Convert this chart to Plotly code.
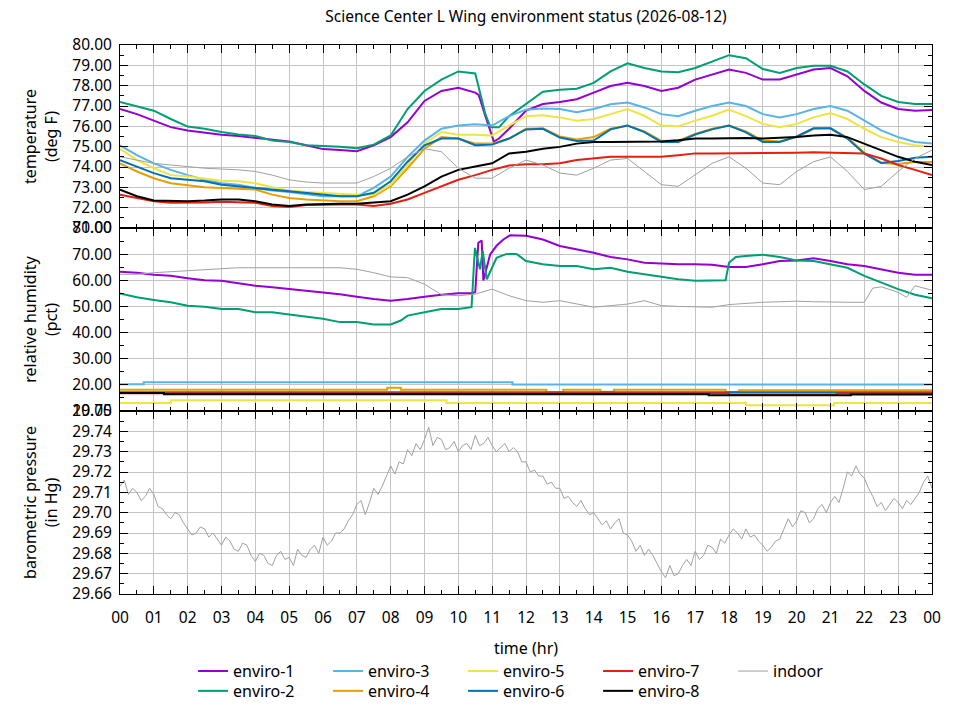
import pandas as pd
import plotly.graph_objects as go
from plotly.subplots import make_subplots

# ---- data (hours since midnight) ----
DAY = pd.Timestamp("2026-08-12")
HALF = [i * 0.5 for i in range(49)]          # 00:00 .. 24:00 every 30 min
EIGHTH = [i * 0.125 for i in range(193)]     # pressure samples

# temperature (deg F)
E1_TEMP_HOURS = HALF[:22] + [10.6, 10.8, 11.05, 11.2, 11.5] + HALF[24:]
E1_TEMP = [76.85, 76.6, 76.28, 75.96, 75.8, 75.68, 75.59, 75.52, 75.43, 75.36, 75.26, 75.07,
           74.88, 74.83, 74.78, 75.07, 75.47, 76.2, 77.25, 77.74, 77.9, 77.66,
           77.55, 76.5, 75.25, 75.4, 75.88,
           76.77, 77.1, 77.2, 77.33, 77.66, 77.98, 78.14, 77.98, 77.74, 77.9, 78.3, 78.55,
           78.79, 78.63, 78.3, 78.3, 78.55, 78.79, 78.87, 78.46, 77.74, 77.17, 76.85, 76.77, 76.8]
E2_TEMP_HOURS = HALF[:22] + [10.65, 10.8, 10.95, 11.2, 11.5] + HALF[24:]
E2_TEMP = [77.2, 77.0, 76.77, 76.36, 75.99, 75.88, 75.72, 75.6, 75.52, 75.3, 75.23, 75.07,
           75.04, 74.99, 74.92, 75.1, 75.55, 76.85, 77.74, 78.3, 78.7, 78.6,
           77.6, 76.6, 75.95, 75.95, 76.5,
           77.1, 77.7, 77.8, 77.85, 78.14, 78.7, 79.1, 78.87, 78.7, 78.66, 78.87, 79.19,
           79.5, 79.35, 78.82, 78.63, 78.87, 78.98, 78.98, 78.7, 78.06, 77.5, 77.2, 77.1, 77.1]
E3_TEMP = [75.07, 74.58, 74.18, 73.86, 73.6, 73.37, 73.2, 73.13, 72.97, 72.84, 72.77, 72.68,
           72.56, 72.56, 72.56, 72.97, 73.53, 74.5, 75.3, 75.88, 76.04, 76.1, 76.04, 76.5,
           76.82, 76.88, 76.85, 76.69, 76.85, 77.09, 77.17, 76.93, 76.6, 76.5, 76.77, 77.0,
           77.17, 77.0, 76.6, 76.44, 76.6, 76.85, 77.0, 76.77, 76.28, 75.8, 75.47, 75.23, 75.15]
E4_TEMP = [74.18, 73.78, 73.45, 73.2, 73.1, 73.0, 72.97, 72.94, 72.89, 72.64, 72.48, 72.4,
           72.35, 72.32, 72.32, 72.56, 73.05, 73.94, 74.9, 75.47, 75.4, 75.15, 75.15, 75.4,
           75.88, 75.9, 75.5, 75.35, 75.47, 75.88, 76.04, 75.75, 75.28, 75.3, 75.63, 75.88,
           76.04, 75.75, 75.3, 75.25, 75.47, 75.88, 75.9, 75.45, 74.7, 74.2, 74.15, 74.25, 74.25]
E5_TEMP = [74.9, 74.34, 73.94, 73.6, 73.53, 73.42, 73.32, 73.3, 73.2, 73.0, 72.84, 72.77,
           72.73, 72.68, 72.64, 72.64, 73.13, 74.1, 75.15, 75.72, 75.59, 75.59, 75.55, 76.04,
           76.5, 76.55, 76.44, 76.28, 76.36, 76.6, 76.85, 76.52, 76.04, 76.0, 76.28, 76.52,
           76.82, 76.5, 76.12, 75.96, 76.12, 76.44, 76.65, 76.36, 75.88, 75.47, 75.23, 75.07, 74.99]
E6_TEMP = [74.34, 74.02, 73.7, 73.45, 73.37, 73.3, 73.13, 73.05, 72.97, 72.89, 72.8, 72.73,
           72.64, 72.56, 72.56, 72.73, 73.3, 74.26, 75.07, 75.4, 75.4, 75.07, 75.1, 75.4,
           75.85, 75.88, 75.45, 75.28, 75.3, 75.85, 76.04, 75.72, 75.23, 75.23, 75.6, 75.85,
           76.04, 75.7, 75.23, 75.23, 75.5, 75.9, 75.9, 75.4, 74.65, 74.2, 74.3, 74.45, 74.5]
E7_TEMP = [72.64, 72.48, 72.32, 72.24, 72.24, 72.26, 72.29, 72.26, 72.24, 72.08, 72.03, 72.13,
           72.16, 72.16, 72.16, 72.08, 72.19, 72.4, 72.73, 73.05, 73.37, 73.6, 73.86, 74.07,
           74.13, 74.13, 74.18, 74.34, 74.42, 74.5, 74.5, 74.5, 74.5, 74.58, 74.67, 74.67,
           74.67, 74.67, 74.67, 74.67, 74.7, 74.72, 74.7, 74.67, 74.67, 74.42, 74.1, 73.86, 73.6]
E8_TEMP = [72.89, 72.56, 72.35, 72.32, 72.32, 72.35, 72.4, 72.4, 72.32, 72.16, 72.08, 72.16,
           72.19, 72.19, 72.19, 72.24, 72.32, 72.64, 73.05, 73.53, 73.86, 74.02, 74.18, 74.67,
           74.75, 74.9, 74.99, 75.15, 75.23, 75.23, 75.23, 75.25, 75.25, 75.31, 75.4, 75.4,
           75.43, 75.43, 75.4, 75.43, 75.47, 75.55, 75.59, 75.47, 75.15, 74.83, 74.5, 74.26, 74.1]
IN_TEMP = [74.5, 74.34, 74.18, 74.1, 74.02, 73.94, 73.9, 73.86, 73.78, 73.6, 73.37, 73.26,
           73.21, 73.21, 73.21, 73.53, 73.94, 74.5, 74.9, 74.75, 73.94, 73.45, 73.45, 73.94,
           74.34, 74.1, 73.7, 73.6, 73.94, 74.34, 74.42, 73.78, 73.13, 73.05, 73.6, 74.18,
           74.5, 73.94, 73.21, 73.13, 73.78, 74.26, 74.5, 73.78, 72.89, 73.05, 73.78, 74.42, 74.83]

# relative humidity (pct)
E1_HUM_HOURS = HALF[:21] + [10.4, 10.5, 10.59, 10.69, 10.74, 10.94, 11.13, 11.33, 11.53] + HALF[24:]
E1_HUM = [63.3, 62.9, 62.1, 61.7, 60.8, 60.0, 59.8, 58.9, 57.9, 57.3, 56.6, 56.0, 55.4, 54.7,
          53.7, 52.8, 52.2, 52.8, 53.7, 54.5, 55.0,
          55.0, 55.5, 74.3, 75.2, 59.9, 69.9, 73.2, 75.6, 77.2,
          77.0, 75.6, 73.1, 71.8, 70.5, 68.9, 68.0, 66.7, 66.4, 66.1, 66.1, 65.9, 65.1, 65.1,
          66.1, 67.4, 67.6, 68.4, 67.4, 66.1, 65.5, 64.2, 62.9, 62.1, 62.1]
E2_HUM_HOURS = (HALF[:17] + [8.3, 8.5, 9, 9.5, 10]
                + [10.39, 10.49, 10.64, 10.72, 10.84, 11.13, 11.43, 11.72]
                + HALF[24:36] + [17.9, 18.0, 18.2] + HALF[37:])
E2_HUM = [55.0, 53.5, 52.5, 51.6, 50.3, 49.9, 49.0, 49.0, 47.8, 47.8, 46.9, 46.1, 45.3, 44.0,
          44.0, 43.1, 43.1,
          44.6, 46.5, 47.8, 49.0, 49.0,
          49.7, 72.4, 64.2, 71.3, 60.4, 68.6, 70.1, 70.1,
          67.4, 66.1, 65.5, 65.5, 64.2, 64.8, 63.3, 62.3, 61.3, 60.4, 59.8, 59.8,
          60.0, 66.7, 68.9,
          69.3, 69.8, 68.9, 67.6, 67.4, 66.1, 64.8, 61.7, 59.2, 56.6, 54.5, 53.1]
IN_HUM_HOURS = HALF[:45] + [22.25, 22.5, 23, 23.25, 23.5, 24]
IN_HUM = [62.3, 62.3, 62.9, 63.3, 63.8, 64.2, 64.6, 64.8, 64.8, 64.8, 64.8, 64.8, 64.8, 64.8,
          64.2, 62.9, 61.3, 61.0, 58.5, 54.5, 54.1, 54.7, 56.6, 54.1, 52.2, 51.6, 52.2, 50.9,
          49.7, 50.3, 50.9, 52.2, 50.3, 50.0, 49.9, 49.7, 50.7, 51.2, 51.6, 51.8, 52.0, 51.8,
          51.6, 51.6, 51.6,
          57.0, 57.5, 55.4, 53.5, 57.9, 56.2]
# flat sensors, stored as step change points
E3_HUM_HOURS = [0, 0.7, 11.6, 24]
E3_HUM = [20.2, 21.0, 20.1, 20.1]
E4_HUM_HOURS = [0, 7.9, 8.3, 12.6, 13.1, 14.2, 14.6, 17.9, 18.3, 24]
E4_HUM = [18.1, 18.9, 18.1, 17.2, 18.1, 17.4, 18.1, 17.3, 17.9, 17.9]
E5_HUM_HOURS = [0, 1.5, 9.65, 18.5, 21.1, 24]
E5_HUM = [13.1, 14.1, 13.1, 12.2, 13.1, 13.1]
E6_HUM_HOURS = [0, 24]
E6_HUM = [17.2, 17.2]
E7_HUM_HOURS = [0, 18.0, 21.2, 24]
E7_HUM = [16.8, 16.3, 16.8, 16.8]
E8_HUM_HOURS = [0, 1.3, 17.4, 21.6, 24]
E8_HUM = [16.9, 16.4, 16.0, 16.3, 16.3]

# barometric pressure (in Hg), indoor sensor only
IN_PRES = [29.713, 29.716, 29.709, 29.712, 29.710, 29.706, 29.708, 29.712,
           29.709, 29.703, 29.702, 29.699, 29.697, 29.700, 29.699, 29.695,
           29.692, 29.689, 29.690, 29.693, 29.692, 29.688, 29.690, 29.687,
           29.684, 29.688, 29.686, 29.682, 29.681, 29.685, 29.684, 29.679,
           29.676, 29.680, 29.679, 29.675, 29.674, 29.679, 29.681, 29.677,
           29.678, 29.674, 29.682, 29.679, 29.678, 29.682, 29.684, 29.680,
           29.688, 29.684, 29.686, 29.690, 29.690, 29.692, 29.696, 29.699,
           29.704, 29.706, 29.699, 29.705, 29.712, 29.709, 29.713, 29.718,
           29.723, 29.719, 29.725, 29.724, 29.731, 29.728, 29.734, 29.731,
           29.736, 29.742, 29.733, 29.737, 29.736, 29.731, 29.732, 29.735,
           29.730, 29.733, 29.734, 29.731, 29.738, 29.733, 29.734, 29.737,
           29.733, 29.730, 29.732, 29.734, 29.730, 29.732, 29.730, 29.725,
           29.725, 29.720, 29.721, 29.718, 29.718, 29.714, 29.715, 29.712,
           29.712, 29.707, 29.708, 29.705, 29.703, 29.706, 29.702, 29.699,
           29.700, 29.697, 29.694, 29.696, 29.692, 29.695, 29.697, 29.690,
           29.689, 29.686, 29.681, 29.684, 29.679, 29.682, 29.679, 29.675,
           29.671, 29.668, 29.674, 29.669, 29.670, 29.674, 29.677, 29.674,
           29.681, 29.677, 29.679, 29.684, 29.683, 29.680, 29.687, 29.685,
           29.689, 29.692, 29.690, 29.687, 29.692, 29.688, 29.689, 29.686,
           29.684, 29.681, 29.683, 29.686, 29.687, 29.692, 29.697, 29.693,
           29.696, 29.701, 29.700, 29.695, 29.697, 29.702, 29.704, 29.700,
           29.705, 29.708, 29.705, 29.712, 29.720, 29.718, 29.723, 29.719,
           29.717, 29.712, 29.708, 29.703, 29.705, 29.701, 29.704, 29.707,
           29.705, 29.702, 29.706, 29.704, 29.707, 29.710, 29.715, 29.718,
           29.712]

COLORS = {
    "enviro-1": "#9400d3", "enviro-2": "#009e73", "enviro-3": "#56b4e9",
    "enviro-4": "#e69f00", "enviro-5": "#f0e442", "enviro-6": "#0072b2",
    "enviro-7": "#e51e10", "enviro-8": "#000000", "indoor": "#a0a0a0",
}


def times(hours):
    return [DAY + pd.Timedelta(hours=h) for h in hours]


# name, (temp hours, temp), (hum hours, hum, shape), legend row
series = [
    ("enviro-1", (E1_TEMP_HOURS, E1_TEMP), (E1_HUM_HOURS, E1_HUM, "linear"), "legend"),
    ("enviro-2", (E2_TEMP_HOURS, E2_TEMP), (E2_HUM_HOURS, E2_HUM, "linear"), "legend2"),
    ("enviro-3", (HALF, E3_TEMP), (E3_HUM_HOURS, E3_HUM, "hv"), "legend"),
    ("enviro-4", (HALF, E4_TEMP), (E4_HUM_HOURS, E4_HUM, "hv"), "legend2"),
    ("enviro-5", (HALF, E5_TEMP), (E5_HUM_HOURS, E5_HUM, "hv"), "legend"),
    ("enviro-6", (HALF, E6_TEMP), (E6_HUM_HOURS, E6_HUM, "hv"), "legend2"),
    ("enviro-7", (HALF, E7_TEMP), (E7_HUM_HOURS, E7_HUM, "hv"), "legend"),
    ("enviro-8", (HALF, E8_TEMP), (E8_HUM_HOURS, E8_HUM, "hv"), "legend2"),
    ("indoor", (HALF, IN_TEMP), (IN_HUM_HOURS, IN_HUM, "linear"), "legend"),
]

fig = make_subplots(rows=3, cols=1, shared_xaxes=True, vertical_spacing=0)

for name, (th, tv), (hh, hv, shape), leg in series:
    color = COLORS[name]
    width = 1 if name == "indoor" else 2
    fig.add_trace(go.Scatter(x=times(th), y=tv, mode="lines", name=name, legendgroup=name,
                             legend=leg, line=dict(color=color, width=width)), row=1, col=1)
    fig.add_trace(go.Scatter(x=times(hh), y=hv, mode="lines", name=name, legendgroup=name,
                             showlegend=False, line=dict(color=color, width=width, shape=shape)),
                  row=2, col=1)

fig.add_trace(go.Scatter(x=times(EIGHTH), y=IN_PRES, mode="lines", name="indoor",
                         legendgroup="indoor", showlegend=False,
                         line=dict(color=COLORS["indoor"], width=1)), row=3, col=1)

FONT = "Noto Sans"
TICK_FONT = dict(family=FONT, size=15.5, color="black")
TITLE_FONT = dict(family=FONT, size=16, color="black")
axis_common = dict(showline=True, linecolor="black", linewidth=1, mirror="ticks",
                   ticks="inside", ticklen=8, tickcolor="black", showgrid=True,
                   gridcolor="#c4c4c4", gridwidth=1, zeroline=False, tickfont=TICK_FONT)

fig.update_xaxes(type="date", range=[DAY, DAY + pd.Timedelta(hours=24)],
                 dtick=3600000, tickformat="%H",
                 minor=dict(dtick=1800000, ticks="inside", ticklen=4, tickcolor="black",
                            showgrid=False),
                 **axis_common)
fig.update_xaxes(title=dict(text="time (hr)", standoff=16, font=TITLE_FONT),
                 ticklabelstandoff=9, row=3, col=1)

fig.update_yaxes(range=[71, 80], dtick=1, tickformat=".2f",
                 minor=dict(dtick=0.5, ticks="inside", ticklen=4, tickcolor="black"),
                 title=dict(text="temperature<br>(deg F)", standoff=10, font=TITLE_FONT),
                 row=1, col=1, **axis_common)
fig.update_yaxes(range=[10, 80], dtick=10, tickformat=".2f",
                 minor=dict(dtick=5, ticks="inside", ticklen=4, tickcolor="black"),
                 title=dict(text="relative humidity<br>(pct)", standoff=10, font=TITLE_FONT),
                 row=2, col=1, **axis_common)
fig.update_yaxes(range=[29.66, 29.75], dtick=0.01, tickformat=".2f",
                 minor=dict(dtick=0.005, ticks="inside", ticklen=4, tickcolor="black"),
                 title=dict(text="barometric pressure<br>(in Hg)", standoff=10, font=TITLE_FONT),
                 row=3, col=1, **axis_common)
fig.update_yaxes(ticklabelstandoff=4)

legend_common = dict(orientation="h", x=0.09, xanchor="left", yanchor="middle",
                     entrywidth=90, entrywidthmode="pixels", bgcolor="rgba(0,0,0,0)",
                     font=dict(family=FONT, size=16, color="black"), tracegroupgap=0)

# the page adds an 8 px body margin, so the figure is 8 px smaller on each axis
fig.update_layout(
    width=952, height=712,
    title=dict(text="Science Center L Wing environment status (2026-08-12)",
               x=0.5, xref="paper", y=0.9875, yanchor="middle",
               font=dict(family=FONT, size=15.5, color="black")),
    font=dict(family=FONT, size=15, color="black"),
    plot_bgcolor="white", paper_bgcolor="white",
    margin=dict(l=112, r=28, t=37, b=120),
    legend=dict(y=-0.1405, **legend_common),
    legend2=dict(y=-0.1766, **legend_common),
)

fig.write_html("out.html")
